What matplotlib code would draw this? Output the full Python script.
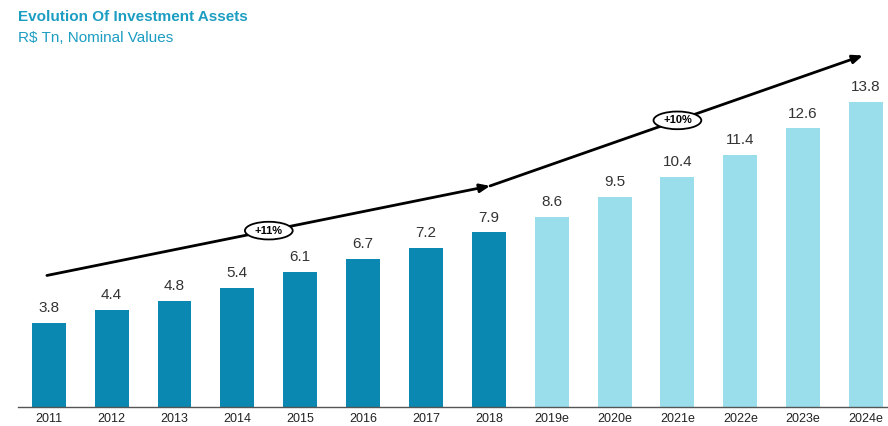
import matplotlib
matplotlib.use("Agg")
import matplotlib.pyplot as plt
from matplotlib.patches import Ellipse

plt.rcParams['font.family'] = ['Liberation Sans', 'DejaVu Sans']

years = ["2011", "2012", "2013", "2014", "2015", "2016", "2017", "2018",
         "2019e", "2020e", "2021e", "2022e", "2023e", "2024e"]
assets = [3.8, 4.4, 4.8, 5.4, 6.1, 6.7, 7.2, 7.9,
          8.6, 9.5, 10.4, 11.4, 12.6, 13.8]
n_actual = 8  # 2011-2018 are realised, the rest are estimates

growth_labels = ["+11%", "+10%"]

dark = "#0A88B1"
light = "#9ADDEB"
title_color = "#1C9DC2"
text_color = "#333333"

fig = plt.figure(figsize=(8.88, 4.26), dpi=100)
ax = fig.add_axes([18 / 888, 19 / 426, 870 / 888, 367 / 426])

x = list(range(len(years)))
colors = [dark if i < n_actual else light for i in x]
ax.bar(x, assets, width=0.54, color=colors, zorder=2)

for xi, v in zip(x, assets):
    ax.text(xi, v + 0.35, f"{v:.1f}", ha="center", va="bottom",
            fontsize=11, color=text_color)

ax.set_xlim(-0.49, 13.35)
ax.set_ylim(0, 16.6)
ax.set_xticks(x)
ax.set_xticklabels(years, fontsize=9, color="#222222")
ax.tick_params(axis="x", length=0, pad=4)
ax.set_yticks([])
for s in ["top", "right", "left"]:
    ax.spines[s].set_visible(False)
ax.spines["bottom"].set_color("#555555")
ax.spines["bottom"].set_linewidth(1.0)

# growth trend arrows
p0 = (-0.03, 5.95)
p1 = (7.02, 10.0)
p2 = (12.95, 15.9)
arrow_kw = dict(arrowstyle="-|>,head_length=0.6,head_width=0.25",
                color="black", lw=2.0, shrinkA=0, shrinkB=0)
ax.annotate("", xy=p1, xytext=p0, arrowprops=arrow_kw, zorder=3)
ax.annotate("", xy=p2, xytext=p1, arrowprops=arrow_kw, zorder=3)

# oval growth-rate badges sitting on the arrows
mid1 = (3.5, p0[1] + (p1[1] - p0[1]) * (3.53 / 7.05))
mid2 = (10.0, p1[1] + (p2[1] - p1[1]) * (2.98 / 5.93))
for (mx, my), lab in zip([mid1, mid2], growth_labels):
    ax.add_patch(Ellipse((mx, my), width=0.76, height=0.8, fc="white",
                         ec="black", lw=1.3, zorder=4))
    ax.text(mx, my, lab, ha="center", va="center", fontsize=8,
            fontweight="bold", zorder=5)

fig.text(18 / 888, 1 - 17 / 426, "Evolution Of Investment Assets",
         fontsize=11, fontweight="bold", color=title_color, va="center")
fig.text(18 / 888, 1 - 38 / 426, "R$ Tn, Nominal Values",
         fontsize=11, color=title_color, va="center")

fig.savefig("out.png", dpi=100)
